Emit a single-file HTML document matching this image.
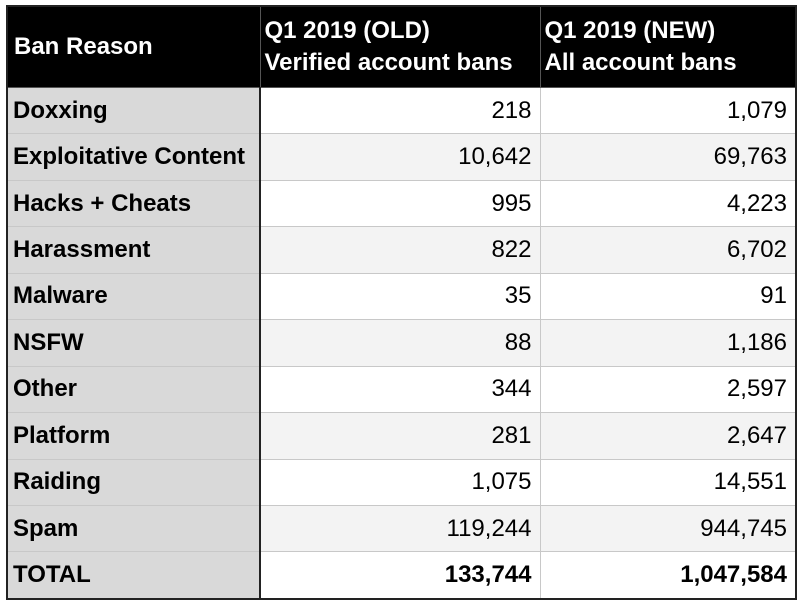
<!DOCTYPE html>
<html><head><meta charset="utf-8"><style>
html,body{margin:0;padding:0;background:#fff;width:800px;height:602px;overflow:hidden}
table{position:absolute;left:6px;top:5px;width:789px;border-collapse:collapse;table-layout:fixed;font-family:"Liberation Sans",Arial,sans-serif;font-size:24px;color:#000;border:2px solid #222}
td,th{border:1px solid #c8c8c8;padding:0 8px 0 6px;height:45.45px;line-height:26px;overflow:hidden;white-space:nowrap}
th{background:#000;color:#fff;text-align:left;font-weight:bold;height:80px;border-color:#555;padding-left:4px;line-height:32px}
td.l{background:#d9d9d9;font-weight:bold;border-right:2px solid #222;padding-left:5px}
td.n{text-align:right}
tr.g td.n{background:#f3f3f3}
tr.t td{font-weight:bold}
</style></head><body>
<table>
<colgroup><col style="width:253px"><col style="width:280px"><col style="width:256px"></colgroup>
<tr><th style="padding-left:6px">Ban Reason</th><th>Q1 2019 (OLD)<br>Verified account bans</th><th>Q1 2019 (NEW)<br>All account bans</th></tr>
<tr><td class="l">Doxxing</td><td class="n">218</td><td class="n">1,079</td></tr>
<tr class="g"><td class="l">Exploitative Content</td><td class="n">10,642</td><td class="n">69,763</td></tr>
<tr><td class="l">Hacks + Cheats</td><td class="n">995</td><td class="n">4,223</td></tr>
<tr class="g"><td class="l">Harassment</td><td class="n">822</td><td class="n">6,702</td></tr>
<tr><td class="l">Malware</td><td class="n">35</td><td class="n">91</td></tr>
<tr class="g"><td class="l">NSFW</td><td class="n">88</td><td class="n">1,186</td></tr>
<tr><td class="l">Other</td><td class="n">344</td><td class="n">2,597</td></tr>
<tr class="g"><td class="l">Platform</td><td class="n">281</td><td class="n">2,647</td></tr>
<tr><td class="l">Raiding</td><td class="n">1,075</td><td class="n">14,551</td></tr>
<tr class="g"><td class="l">Spam</td><td class="n">119,244</td><td class="n">944,745</td></tr>
<tr class="t"><td class="l">TOTAL</td><td class="n">133,744</td><td class="n">1,047,584</td></tr>
</table>
</body></html>
